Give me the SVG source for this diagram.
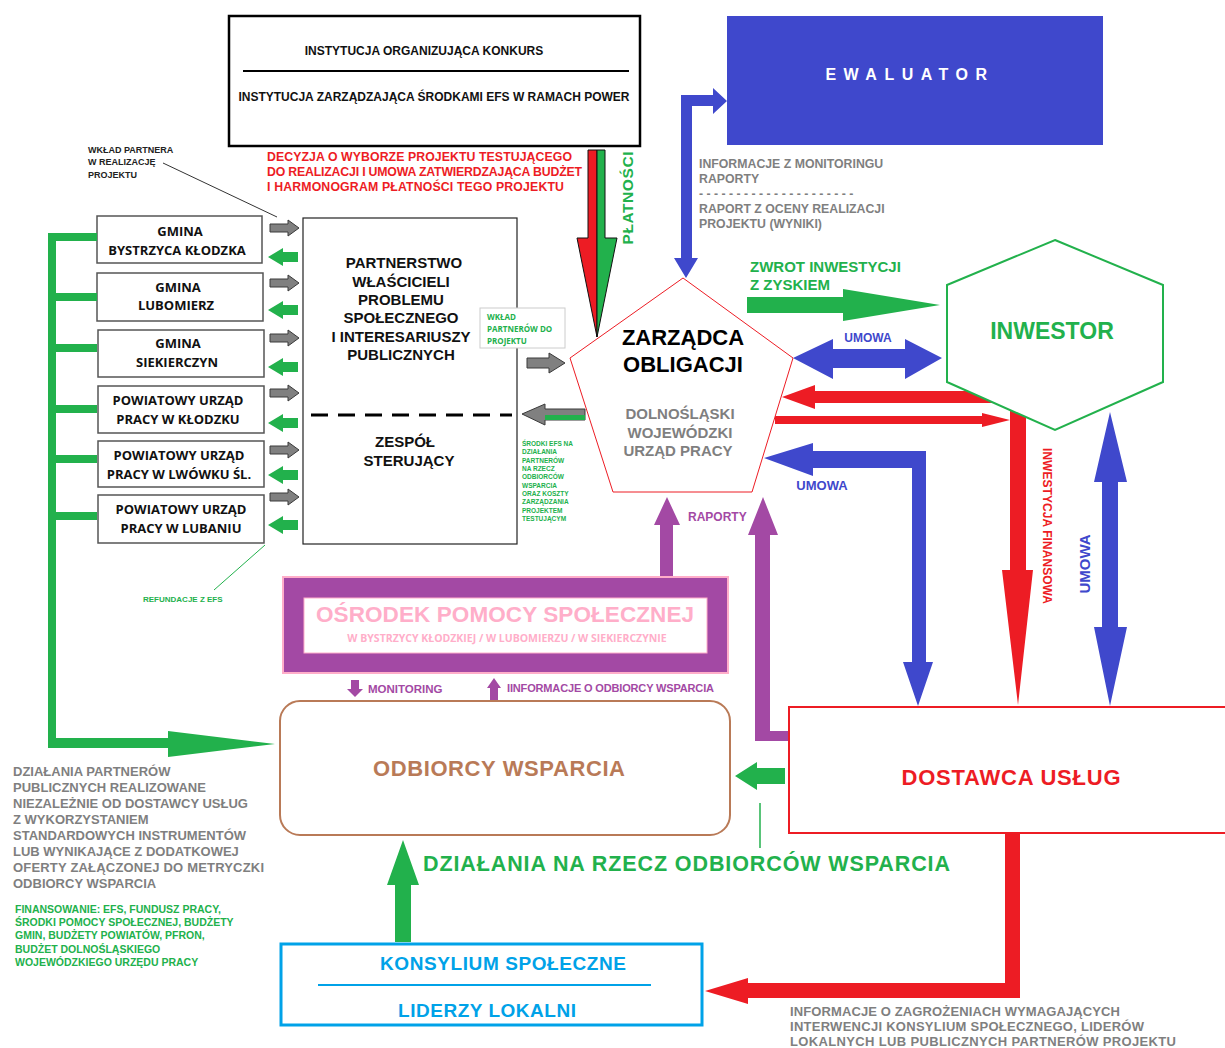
<svg xmlns="http://www.w3.org/2000/svg" width="1225" height="1048" viewBox="0 0 1225 1048">
<style>
text{font-family:"Liberation Sans",Arial,sans-serif;font-weight:bold}
.os{font-family:"Open Sans","Liberation Sans",sans-serif;font-weight:bold}
.gb{fill:#fff;stroke:#555;stroke-width:1.5}
.gt{font-size:13px;fill:#111;text-anchor:middle}
.gray{fill:#7f7f7f}
.grar{fill:#808080;stroke:#3a3a3a;stroke-width:1}
.gnar{fill:#22b14c}
.red{fill:#ed1c24}
.blue{fill:#3f48cc}
.pur{fill:#a349a4}
.grn{fill:#22b14c}
</style>
<rect width="1225" height="1048" fill="#fff"/>

<g id="instytucja">
<rect x="229" y="16" width="411" height="130" fill="#fff" stroke="#000" stroke-width="2.5"/>
<text x="424" y="55" font-size="12" text-anchor="middle" fill="#111">INSTYTUCJA ORGANIZUJĄCA KONKURS</text>
<line x1="243" y1="71" x2="629" y2="71" stroke="#000" stroke-width="2"/>
<text x="434" y="101" font-size="12" text-anchor="middle" fill="#111">INSTYTUCJA ZARZĄDZAJĄCA ŚRODKAMI EFS W RAMACH POWER</text>
</g>

<g id="ewaluator">
<rect x="727" y="16" width="376" height="129" fill="#3f48cc"/>
<text x="910" y="80" font-size="16" fill="#fff" text-anchor="middle" letter-spacing="7.5">EWALUATOR</text>
</g>

<g id="gminy">
<g id="g1"><rect class="gb" x="97" y="216" width="165" height="47"/><text class="gt os" x="180" y="236">GMINA</text><text class="gt os" x="177" y="255">BYSTRZYCA KŁODZKA</text></g>
<g id="g2"><rect class="gb" x="97" y="273" width="166" height="48"/><text class="gt os" x="178" y="292">GMINA</text><text class="gt os" x="176" y="310">LUBOMIERZ</text></g>
<g id="g3"><rect class="gb" x="98" y="330" width="166" height="47"/><text class="gt os" x="178" y="348">GMINA</text><text class="gt os" x="177" y="367">SIEKIERCZYN</text></g>
<g id="g4"><rect class="gb" x="98" y="386" width="166" height="47"/><text class="gt os" x="178" y="405">POWIATOWY URZĄD</text><text class="gt os" x="178" y="424">PRACY W KŁODZKU</text></g>
<g id="g5"><rect class="gb" x="98" y="441" width="166" height="46"/><text class="gt os" x="179" y="460">POWIATOWY URZĄD</text><text class="gt os" x="179" y="479">PRACY W LWÓWKU ŚL.</text></g>
<g id="g6"><rect class="gb" x="98" y="495" width="166" height="48"/><text class="gt os" x="181" y="514">POWIATOWY URZĄD</text><text class="gt os" x="181" y="533">PRACY W LUBANIU</text></g>
</g>

<g id="partnerstwo">
<rect x="303" y="218" width="214" height="326" fill="#fff" stroke="#222" stroke-width="1.2"/>
<g font-size="15" text-anchor="middle" fill="#111">
<text x="404" y="268">PARTNERSTWO</text>
<text x="401" y="287">WŁAŚCICIELI</text>
<text x="401" y="305">PROBLEMU</text>
<text x="401" y="323">SPOŁECZNEGO</text>
<text x="401" y="342">I INTERESARIUSZY</text>
<text x="401" y="360">PUBLICZNYCH</text>
<text x="405" y="447">ZESPÓŁ</text>
<text x="409" y="466">STERUJĄCY</text>
</g>
<line x1="311" y1="415" x2="512" y2="415" stroke="#000" stroke-width="3" stroke-dasharray="17,10"/>
</g>

<g id="wklad-partnerow">
<rect x="480" y="308" width="85" height="40" fill="#fff" stroke="#ccc" stroke-width="1"/>
<g class="os" font-size="8" fill="#22b14c"><text class="os" x="487" y="320">WKŁAD</text><text class="os" x="487" y="332">PARTNERÓW DO</text><text class="os" x="487" y="344">PROJEKTU</text></g>
</g>

<g id="connectors">
<path class="grar" d="M270,224 H288 V220 L299,228 L288,236 V232 H270 Z"/>
<path class="grar" d="M270,279 H288 V275 L299,283 L288,291 V287 H270 Z"/>
<path class="grar" d="M270,334 H288 V330 L299,338 L288,346 V342 H270 Z"/>
<path class="grar" d="M270,389 H288 V385 L299,393 L288,401 V397 H270 Z"/>
<path class="grar" d="M270,446 H288 V442 L299,450 L288,458 V454 H270 Z"/>
<path class="grar" d="M270,493 H288 V489 L299,497 L288,505 V501 H270 Z"/>
<path class="gnar" d="M298,252 H283 V248 L268,257 L283,266 V262 H298 Z"/>
<path class="gnar" d="M298,305 H283 V301 L268,310 L283,319 V315 H298 Z"/>
<path class="gnar" d="M298,362 H283 V358 L268,367 L283,376 V372 H298 Z"/>
<path class="gnar" d="M298,418 H283 V414 L268,423 L283,432 V428 H298 Z"/>
<path class="gnar" d="M298,470 H283 V466 L268,475 L283,484 V480 H298 Z"/>
<path class="gnar" d="M298,520 H283 V516 L268,525 L283,534 V530 H298 Z"/>
<rect class="grn" x="48" y="233" width="8" height="514"/>
<rect class="grn" x="48" y="233" width="49" height="8"/>
<rect class="grn" x="48" y="293" width="49" height="8"/>
<rect class="grn" x="48" y="344" width="49" height="8"/>
<rect class="grn" x="48" y="405" width="49" height="8"/>
<rect class="grn" x="48" y="455" width="49" height="8"/>
<rect class="grn" x="48" y="512" width="49" height="8"/>
<path class="grn" d="M48,738 H168 V731 L275,744 L168,757 V748 H48 Z"/>
<line x1="163" y1="163" x2="277" y2="217" stroke="#333" stroke-width="1"/>
<line x1="214" y1="590" x2="265" y2="545" stroke="#22b14c" stroke-width="1"/>
<path class="grar" d="M527,358 H549 V353 L565,363 L549,373 V368 H527 Z"/>
<path class="grar" d="M585,409 H545 V404 L522,414 L545,425 V420 H585 Z"/>
<rect x="545" y="415" width="40" height="5" fill="#22b14c"/>
<path d="M588,150 H597 V337 L577,238 H588 Z" fill="#ed1c24" stroke="#111" stroke-width="1"/>
<path d="M597,150 H605 V238 H617 L597,337 Z" fill="#22b14c" stroke="#111" stroke-width="1"/>
<path class="blue" d="M681,258 V95 H713 V88 L727,101 L713,114 V106 H692 V258 H698 L686,278 L674,258 Z"/>
<path class="grn" d="M747,297 H843 V289 L940,305 L843,321 V313 H747 Z"/>
<path class="blue" d="M793,358 L833,339 V349 H905 V339 L942,358 L905,379 V368 H833 V379 Z"/>
<path class="red" d="M782,397 L815,385 V391 H995 V403 H815 V409 Z"/>
<path class="red" d="M775,416 H982 V413 L1010,420 L982,427 V424 H775 Z"/>
<path class="red" d="M1010,410 H1026 V570 H1033 L1018,705 L1002,570 H1010 Z"/>
<path class="blue" d="M1110,412 L1127,482 H1118 V627 H1127 L1110,706 L1094,627 H1102 V482 H1094 Z"/>
<path class="blue" d="M764,458 L813,443 V451 H926 V662 H933 L918,706 L903,662 H912 V468 H813 V476 Z"/>
<path class="pur" d="M667,497 L680,525 H673 V576 H660 V525 H654 Z"/>
<path class="pur" d="M763,497 L778,535 H770 V731 H788 V741 H755 V535 H748 Z"/>
<path class="pur" d="M351,680 H359 V689 H363 L355,697 L347,689 H351 Z"/>
<path class="pur" d="M494,678 L501,688 H498 V700 H490 V688 H487 Z"/>
<path class="grn" d="M735,776 L757,762 V768 H785 V784 H757 V790 Z"/>
<line x1="760" y1="803" x2="760" y2="848" stroke="#22b14c" stroke-width="1.5"/>
<path class="grn" d="M403,840 L419,885 H411 V942 H395 V885 H387 Z"/>
<path class="red" d="M1005,833 H1020 V998 H748 V1004 L705,991 L748,978 V983 H1005 Z"/>
</g>

<g id="zarzadca">
<polygon points="683,278 793,358 752,492 613,492 570,358" fill="#fff" stroke="#ed1c24" stroke-width="1"/>
<text x="683" y="345" font-size="22" text-anchor="middle" fill="#000">ZARZĄDCA</text>
<text x="683" y="372" font-size="22" text-anchor="middle" fill="#000">OBLIGACJI</text>
<g font-size="15" text-anchor="middle" class="gray"><text x="680" y="419">DOLNOŚLĄSKI</text><text x="680" y="438">WOJEWÓDZKI</text><text x="678" y="456">URZĄD PRACY</text></g>
</g>

<g id="inwestor">
<polygon points="1055,240 1163,285 1163,382 1055,430 947,382 947,285" fill="#fff" stroke="#22b14c" stroke-width="2"/>
<text x="1052" y="339" font-size="23" text-anchor="middle" fill="#22b14c">INWESTOR</text>
</g>

<g id="osrodek">
<rect x="283" y="577" width="445" height="96" fill="#a349a4" stroke="#ffaec9" stroke-width="2"/>
<rect x="304" y="598" width="403" height="55" fill="#fff" stroke="#ffaec9" stroke-width="1"/>
<text x="505" y="622" font-size="22.5" text-anchor="middle" fill="#ffaec9" textLength="378">OŚRODEK POMOCY SPOŁECZNEJ</text>
<text class="os" x="507" y="642" font-size="10.5" text-anchor="middle" fill="#ffaec9">W BYSTRZYCY KŁODZKIEJ / W LUBOMIERZU / W SIEKIERCZYNIE</text>
</g>

<g id="odbiorcy">
<rect x="280" y="701" width="450" height="134" rx="20" fill="#fff" stroke="#b97a57" stroke-width="2"/>
<text x="499" y="776" font-size="22" text-anchor="middle" fill="#b97a57" textLength="252">ODBIORCY WSPARCIA</text>
</g>

<g id="dostawca">
<rect x="789" y="707" width="440" height="126" fill="#fff" stroke="#ed1c24" stroke-width="2"/>
<text x="1011" y="785" font-size="22" text-anchor="middle" fill="#ed1c24" textLength="219">DOSTAWCA USŁUG</text>
</g>

<g id="konsylium">
<rect x="281" y="944" width="421" height="81" fill="#fff" stroke="#00a2e8" stroke-width="3"/>
<text x="503" y="970" font-size="19" text-anchor="middle" fill="#00a2e8" textLength="246">KONSYLIUM SPOŁECZNE</text>
<line x1="318" y1="985" x2="651" y2="985" stroke="#00a2e8" stroke-width="2"/>
<text x="487" y="1017" font-size="19" text-anchor="middle" fill="#00a2e8" textLength="178">LIDERZY LOKALNI</text>
</g>

<g id="labels">
<g font-size="9" fill="#222"><text x="88" y="153">WKŁAD PARTNERA</text><text x="88" y="165">W REALIZACJĘ</text><text x="88" y="178">PROJEKTU</text></g>
<g font-size="12.3" fill="#ed1c24"><text x="267" y="161" textLength="305">DECYZJA O WYBORZE PROJEKTU TESTUJĄCEGO</text><text x="267" y="176" textLength="315">DO REALIZACJI I UMOWA ZATWIERDZAJĄCA BUDŻET</text><text x="267" y="191" textLength="297">I HARMONOGRAM PŁATNOŚCI TEGO PROJEKTU</text></g>
<text x="633" y="198" font-size="15.5" fill="#22b14c" text-anchor="middle" transform="rotate(-90 633 198)" textLength="93">PŁATNOŚCI</text>
<g font-size="12.3" class="gray"><text x="699" y="168">INFORMACJE Z MONITORINGU</text><text x="699" y="183">RAPORTY</text><text x="699" y="198">- - - - - - - - - - - - - - - - - - - - -</text><text x="699" y="213">RAPORT Z OCENY REALIZACJI</text><text x="699" y="228">PROJEKTU (WYNIKI)</text></g>
<g font-size="15" fill="#22b14c"><text x="750" y="272">ZWROT INWESTYCJI</text><text x="750" y="290">Z ZYSKIEM</text></g>
<text x="868" y="342" font-size="12" text-anchor="middle" fill="#3f48cc">UMOWA</text>
<text x="822" y="490" font-size="13" text-anchor="middle" fill="#3f48cc">UMOWA</text>
<text x="1043" y="526" font-size="12" text-anchor="middle" fill="#ed1c24" font-weight="normal" transform="rotate(90 1043 526)" textLength="156">INWESTYCJA FINANSOWA</text>
<text x="1090" y="564" font-size="15" text-anchor="middle" fill="#3f48cc" transform="rotate(-90 1090 564)">UMOWA</text>
<text x="688" y="521" font-size="12" fill="#a349a4">RAPORTY</text>
<g font-size="6.5" fill="#22b14c"><text x="522" y="446">ŚRODKI EFS NA</text><text x="522" y="454">DZIAŁANIA</text><text x="522" y="463">PARTNERÓW</text><text x="522" y="471">NA RZECZ</text><text x="522" y="479">ODBIORCÓW</text><text x="522" y="488">WSPARCIA</text><text x="522" y="496">ORAZ KOSZTY</text><text x="522" y="504">ZARZĄDZANIA</text><text x="522" y="513">PROJEKTEM</text><text x="522" y="521">TESTUJĄCYM</text></g>
<text x="143" y="602" font-size="8" fill="#22b14c">REFUNDACJE Z EFS</text>
<text x="368" y="693" font-size="11.5" fill="#a349a4">MONITORING</text>
<text x="507" y="692" font-size="11" fill="#a349a4" textLength="207">IINFORMACJE O ODBIORCY WSPARCIA</text>
<text x="423" y="871" font-size="21.5" fill="#22b14c" textLength="527">DZIAŁANIA NA RZECZ ODBIORCÓW WSPARCIA</text>
<g font-size="13" class="gray"><text x="13" y="776">DZIAŁANIA PARTNERÓW</text><text x="13" y="792">PUBLICZNYCH REALIZOWANE</text><text x="13" y="808">NIEZALEŻNIE OD DOSTAWCY USŁUG</text><text x="13" y="824">Z WYKORZYSTANIEM</text><text x="13" y="840">STANDARDOWYCH INSTRUMENTÓW</text><text x="13" y="856">LUB WYNIKAJĄCE Z DODATKOWEJ</text><text x="13" y="872" textLength="251">OFERTY ZAŁĄCZONEJ DO METRYCZKI</text><text x="13" y="888">ODBIORCY WSPARCIA</text></g>
<g font-size="10.5" fill="#22b14c"><text x="15" y="913">FINANSOWANIE: EFS, FUNDUSZ PRACY,</text><text x="15" y="926">ŚRODKI POMOCY SPOŁECZNEJ, BUDŻETY</text><text x="15" y="939">GMIN, BUDŻETY POWIATÓW, PFRON,</text><text x="15" y="953">BUDŻET DOLNOŚLĄSKIEGO</text><text x="15" y="966">WOJEWÓDZKIEGO URZĘDU PRACY</text></g>
<g font-size="13" class="gray"><text x="790" y="1016" textLength="330">INFORMACJE O ZAGROŻENIACH WYMAGAJĄCYCH</text><text x="790" y="1031" textLength="354">INTERWENCJI KONSYLIUM SPOŁECZNEGO, LIDERÓW</text><text x="790" y="1046" textLength="386">LOKALNYCH LUB PUBLICZNYCH PARTNERÓW PROJEKTU</text></g>
</g>
</svg>
